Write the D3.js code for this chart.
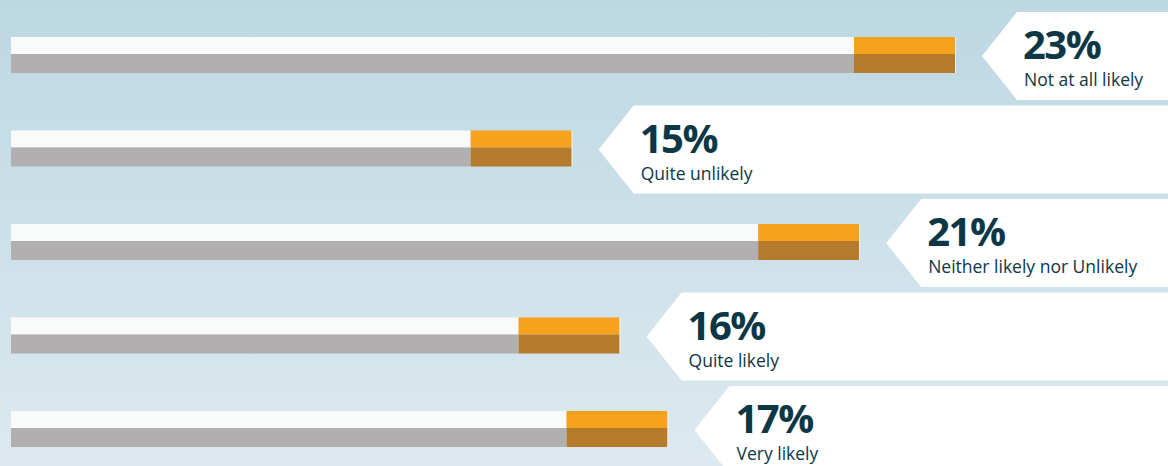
<!DOCTYPE html>
<html>
<head>
<meta charset="utf-8">
<script src="https://cdn.jsdelivr.net/npm/d3@7"></script>
<style>
  html, body { margin: 0; padding: 0; overflow: hidden; }
  svg { display: block; }
</style>
</head>
<body>
<svg id="chart" width="1168" height="466"></svg>
<script>
// data
var categories = ["Not at all likely", "Quite unlikely", "Neither likely nor Unlikely", "Quite likely", "Very likely"];
var values = [23, 15, 21, 16, 17];
var valueLabels = ["23%", "15%", "21%", "16%", "17%"];

var W = 1168, H = 466,
    barLeft = 11, capW = 101, barTopH = 17, barBotH = 19,
    gap = 27, arrowW = 35, boxH = 88;

var svg = d3.select("#chart");

var defs = svg.append("defs");
var grad = defs.append("linearGradient").attr("id", "bg")
    .attr("x1", 0).attr("y1", 0).attr("x2", 0).attr("y2", 1);
grad.append("stop").attr("offset", "0%").attr("stop-color", "#bcd8e3");
grad.append("stop").attr("offset", "100%").attr("stop-color", "#dde9ef");
svg.append("rect").attr("width", W).attr("height", H).attr("fill", "url(#bg)");

var x = d3.scaleLinear().domain([3.3, 23]).range([barLeft, 955]);
var y = d3.scalePoint().domain(categories).range([37, 411]);

var rows = svg.selectAll("g.row")
    .data(categories.map(function (c, i) { return {cat: c, value: values[i], label: valueLabels[i]}; }))
  .enter().append("g")
    .attr("class", "row")
    .attr("transform", function (d) { return "translate(0," + y(d.cat) + ")"; });

// light top half / grey bottom half
rows.append("rect")
    .attr("x", barLeft).attr("y", 0)
    .attr("width", function (d) { return x(d.value) - barLeft - capW; })
    .attr("height", barTopH)
    .attr("fill", "#f9fbfa");
rows.append("rect")
    .attr("x", barLeft).attr("y", barTopH)
    .attr("width", function (d) { return x(d.value) - barLeft - capW; })
    .attr("height", barBotH)
    .attr("fill", "#b1afb0");
// orange end cap
rows.append("rect")
    .attr("x", function (d) { return x(d.value) - capW; }).attr("y", 0)
    .attr("width", capW).attr("height", barTopH)
    .attr("fill", "#f7a21d");
rows.append("rect")
    .attr("x", function (d) { return x(d.value) - capW; }).attr("y", barTopH)
    .attr("width", capW).attr("height", barBotH)
    .attr("fill", "#b57b2d");
rows.append("line")
    .attr("x1", function (d) { return x(d.value) + 0.5; })
    .attr("x2", function (d) { return x(d.value) + 0.5; })
    .attr("y1", 0).attr("y2", barTopH + barBotH)
    .attr("stroke", "#f3efe6").attr("stroke-width", 1);

// callout arrow boxes
var boxTop = -25;
rows.append("path")
    .attr("fill", "#ffffff")
    .attr("d", function (d) {
        var tip = x(d.value) + gap, cx = tip + arrowW;
        return "M" + tip + "," + (boxTop + boxH / 2) +
            "L" + cx + "," + boxTop +
            "L" + W + "," + boxTop +
            "L" + W + "," + (boxTop + boxH) +
            "L" + cx + "," + (boxTop + boxH) + "Z";
    });

rows.append("text")
    .attr("x", function (d) { return x(d.value) + gap + 41; })
    .attr("y", boxTop + 47)
    .attr("font-family", "'Open Sans', sans-serif")
    .attr("font-weight", "bold")
    .attr("font-size", 40)
    .attr("letter-spacing", -1.5)
    .attr("fill", "#0d3745")
    .text(function (d) { return d.label; });

rows.append("text")
    .attr("x", function (d) { return x(d.value) + gap + 42; })
    .attr("y", boxTop + 74)
    .attr("font-family", "'Open Sans', sans-serif")
    .attr("font-size", 17.5)
    .attr("fill", "#0d3745")
    .text(function (d) { return d.cat; });
</script>
</body>
</html>
